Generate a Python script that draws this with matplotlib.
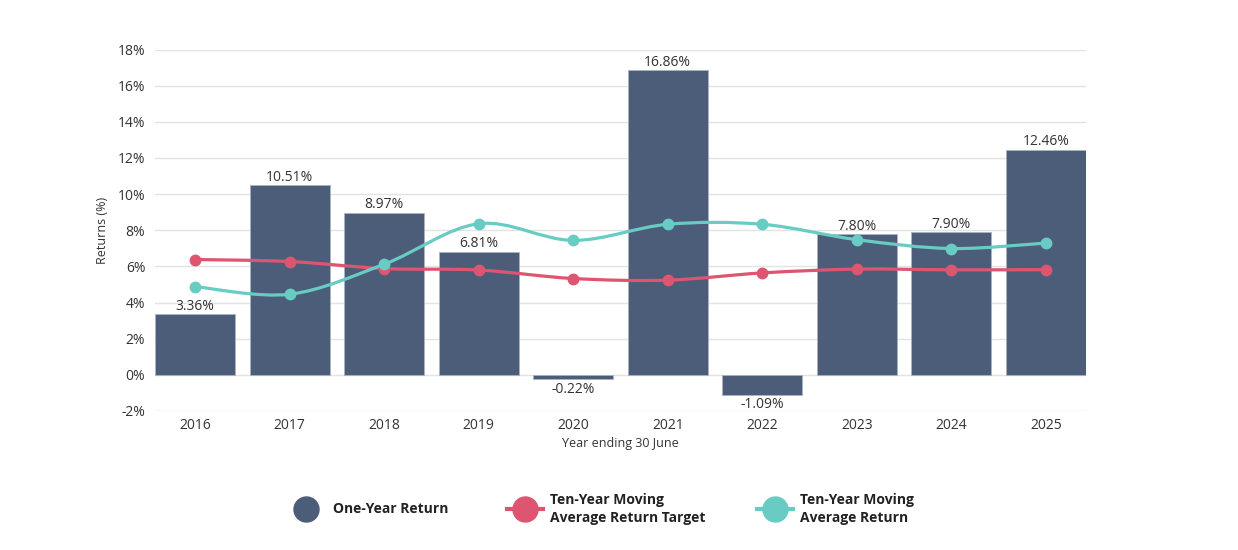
import matplotlib
matplotlib.use('Agg')
import matplotlib.pyplot as plt
import numpy as np
from matplotlib.path import Path
from matplotlib.patches import PathPatch
from matplotlib.lines import Line2D

plt.rcParams['font.family'] = ['Open Sans', 'DejaVu Sans']

# Data
years = ['2016', '2017', '2018', '2019', '2020', '2021', '2022', '2023', '2024', '2025']
one_year = [3.36, 10.51, 8.97, 6.81, -0.22, 16.86, -1.09, 7.80, 7.90, 12.46]
target = [6.38, 6.27, 5.88, 5.80, 5.33, 5.24, 5.64, 5.85, 5.81, 5.82]
moving_avg = [4.88, 4.46, 6.12, 8.36, 7.44, 8.33, 8.33, 7.48, 6.99, 7.29]

BAR_C = '#4b5d78'
RED_C = '#dd5570'
TEAL_C = '#68ccc4'
TXT = '#333333'


def smooth_path(xs, ys):
    # cubic bezier through the points (cardinal spline style)
    xs = np.asarray(xs, float)
    ys = np.asarray(ys, float)
    n = len(xs)
    verts = [(xs[0], ys[0])]
    codes = [Path.MOVETO]
    for i in range(n - 1):
        p0 = np.array([xs[max(i - 1, 0)], ys[max(i - 1, 0)]])
        p1 = np.array([xs[i], ys[i]])
        p2 = np.array([xs[i + 1], ys[i + 1]])
        p3 = np.array([xs[min(i + 2, n - 1)], ys[min(i + 2, n - 1)]])
        c1 = p1 + (p2 - p0) / 6.0
        c2 = p2 - (p3 - p1) / 6.0
        verts += [tuple(c1), tuple(c2), tuple(p2)]
        codes += [Path.CURVE4] * 3
    return Path(verts, codes)


fig = plt.figure(figsize=(12.38, 5.5), dpi=100)
ax = fig.add_axes([155 / 1238, 1 - 411 / 550, (1086 - 155) / 1238, (411 - 49.5) / 550])

x = np.arange(len(years))
ax.bar(x, one_year, width=0.845, color=BAR_C, edgecolor='#aab3c0', linewidth=0.6, zorder=2)

for xi, v in zip(x, one_year):
    if v >= 0:
        ax.text(xi, v + 0.02, f'{v:.2f}%', ha='center', va='bottom', fontsize=10, color=TXT, zorder=5)
    else:
        ax.text(xi, v - 0.15, f'{v:.2f}%', ha='center', va='top', fontsize=10, color=TXT, zorder=5)

for ys, c in [(target, RED_C), (moving_avg, TEAL_C)]:
    ax.add_patch(PathPatch(smooth_path(x, ys), facecolor='none', edgecolor=c, lw=2.3, zorder=3))
    ax.plot(x, ys, 'o', color=c, markersize=7.5, zorder=4)

ax.set_xlim(-0.425, 9.425)
ax.set_ylim(-2, 18)
ax.set_yticks(np.arange(-2, 19, 2))
ax.set_yticklabels([f'{t}%' for t in range(-2, 19, 2)])
ax.set_xticks(x)
ax.set_xticklabels(years)
ax.grid(axis='y', color='#e3e3e3', lw=1, zorder=0)
ax.set_axisbelow(True)
for s in ax.spines.values():
    s.set_visible(False)
ax.tick_params(length=0, labelsize=10, colors=TXT)
ax.tick_params(axis='x', pad=5)
ax.tick_params(axis='y', pad=7)
ax.set_xlabel('Year ending 30 June', fontsize=9, color=TXT, labelpad=3)
ax.set_ylabel('Returns (%)', fontsize=9, color=TXT, labelpad=6)

# legend
def fx(px):
    return px / 1238


def fy(py):
    return 1 - py / 550


ly = 509
fig.add_artist(Line2D([fx(306)], [fy(ly)], marker='o', markersize=18, color=BAR_C, transform=fig.transFigure))
fig.text(fx(333), fy(ly), 'One-Year Return', fontsize=10, fontweight='bold', color='#222222', va='center')
for cx, c, lab in [(525, RED_C, 'Ten-Year Moving\nAverage Return Target'),
                   (775, TEAL_C, 'Ten-Year Moving\nAverage Return')]:
    fig.add_artist(Line2D([fx(cx - 18), fx(cx + 18)], [fy(ly), fy(ly)], lw=3, color=c, transform=fig.transFigure))
    fig.add_artist(Line2D([fx(cx)], [fy(ly)], marker='o', markersize=18, color=c, transform=fig.transFigure))
    fig.text(fx(cx + 25), fy(ly), lab, fontsize=10, fontweight='bold', color='#222222', va='center', linespacing=1.3)

fig.savefig('out.png', dpi=100)
